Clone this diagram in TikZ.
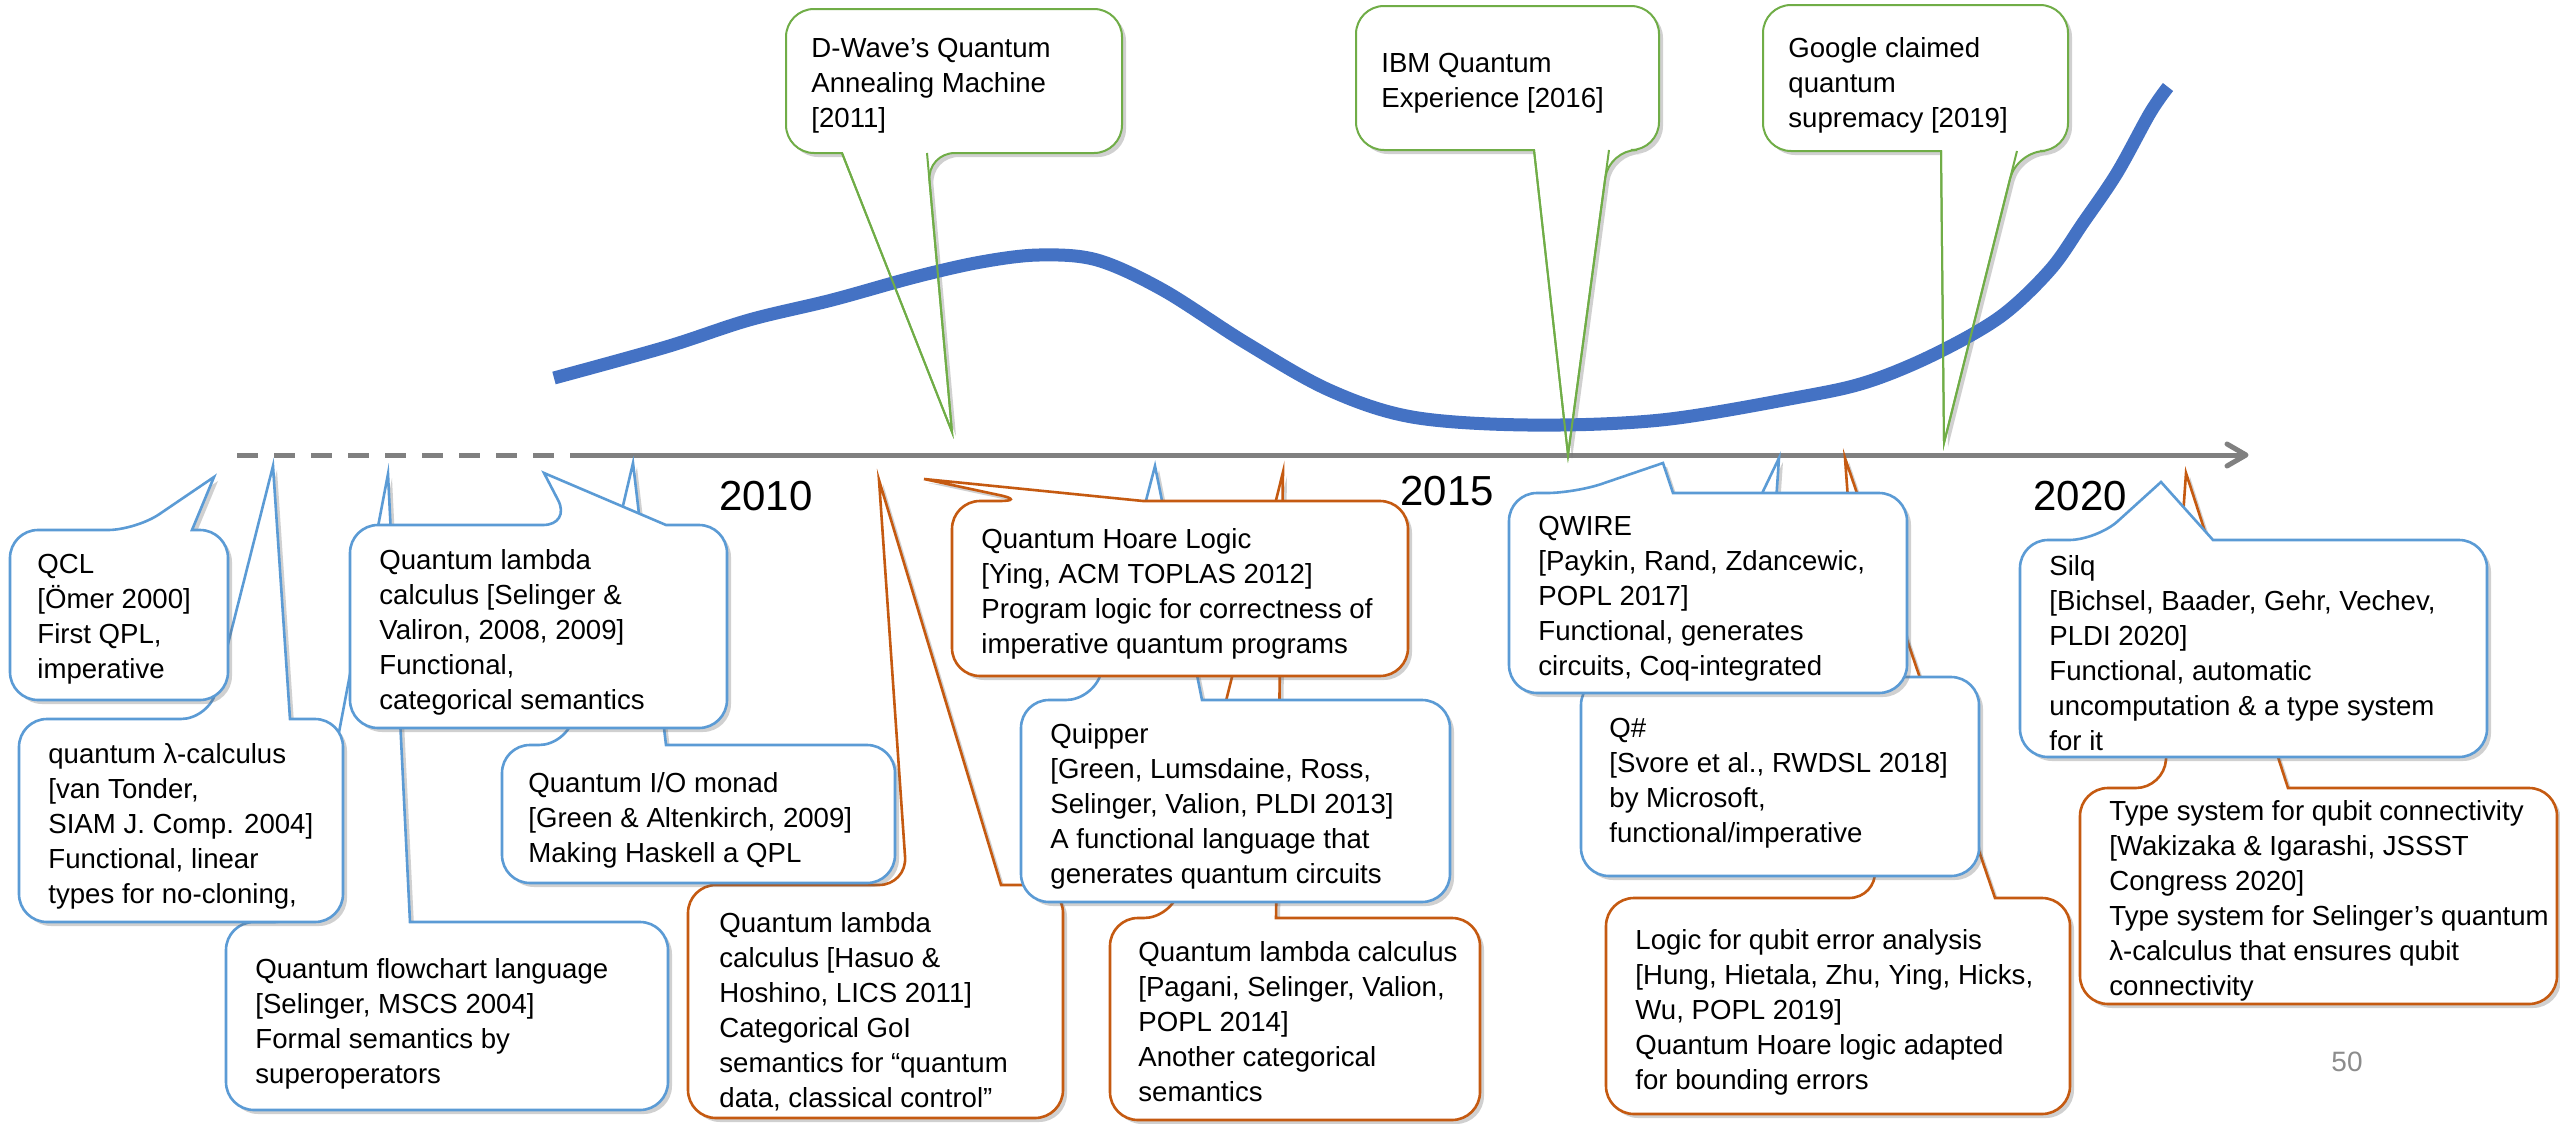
\documentclass[tikz,border=0pt]{standalone}
\usepackage{fontspec}
\setmainfont{Liberation Sans}
\usetikzlibrary{shadows}
\definecolor{cblue}{RGB}{91,155,213}
\definecolor{corange}{RGB}{197,90,17}
\definecolor{cgreen}{RGB}{112,173,71}
\definecolor{ccurve}{RGB}{68,114,196}
\definecolor{caxis}{RGB}{128,128,128}
\begin{document}
\begin{tikzpicture}[x=0.5pt,y=-0.5pt,
  shd/.style={drop shadow={shadow xshift=2pt,shadow yshift=-2pt,opacity=0.3,fill=black!60}},
  bbox/.style={draw=cblue,fill=white,line width=1.3pt,shd},
  obox/.style={draw=corange,fill=white,line width=1.3pt,shd},
  gbox/.style={draw=cgreen,fill=white,line width=1pt,shd},
  gline/.style={draw=cgreen,line width=1pt},
  txt/.style={anchor=north west,inner sep=0pt,align=left,font=\fontsize{13.8}{17.5}\selectfont},
  yr/.style={anchor=base,inner sep=0pt,font=\fontsize{21}{25}\selectfont},
  axisline/.style={draw=caxis,line width=2.5pt},
]
\useasboundingbox (0,0) rectangle (2560,1124);
\fill[white] (0,0) rectangle (2560,1124);

% axis
\draw[axisline,dash pattern=on 10.5pt off 8pt] (237,455) -- (572,455);
\draw[axisline] (572,455) -- (2244,455);
\draw[axisline,line cap=round,line join=round] (2227,444) -- (2246,455) -- (2227,466);

% year labels
\node[yr] (y2010) at (766,510) {2010};
\node[yr] (y2015) at (1447,505) {2015};
\node[yr] (y2020) at (2080,510) {2020};

% green callouts (top)
\draw[gbox] (842,153) [rounded corners=14pt] -- (786,153) -- (786,9) -- (1122,9) -- (1122,153) -- (927,153) [sharp corners] -- (952,432) -- cycle;
\draw[gbox] (1534,150) [rounded corners=14pt] -- (1356,150) -- (1356,6) -- (1659,6) -- (1659,150) -- (1609,150) [sharp corners] -- (1568,455) -- cycle;
\draw[gbox] (1941,151) [rounded corners=14pt] -- (1763,151) -- (1763,5) -- (2068,5) -- (2068,151) -- (2017,151) [sharp corners] -- (1944,443) -- cycle;

% curve
\draw[ccurve,line width=6.5pt] plot[smooth,tension=0.55] coordinates {
 (554,378) (666,347) (749,320) (832,300) (915,277) (981,262) (1039,255)
 (1097,260) (1163,290) (1246,343) (1329,390) (1412,417) (1528,425)
 (1661,420) (1800,397) (1867,382) (1933,355) (2000,317) (2050,270)
 (2083,223) (2117,173) (2150,113) (2168,87)};

% green tail lines over the curve
\draw[gline] (842,153) -- (952,432) -- (927,153);
\draw[gline] (1534,150) -- (1568,455) -- (1609,150);
\draw[gline] (1941,151) -- (1944,443) -- (2017,151);

\node[txt] (dwave) at (811,38) {D-Wave’s Quantum\\Annealing Machine\\{}[2011]};
\node[txt] (ibm) at (1381,53) {IBM Quantum\\Experience [2016]};
\node[txt] (google) at (1788,37) {Google claimed\\quantum\\supremacy [2019]};

% bottom callouts (tails on top edge)
% flowchart
\draw[bbox] (410,922) [rounded corners=14pt] -- (668,922) -- (668,1110) -- (226,1110) -- (226,922) -- (303,922) [sharp corners] -- (388,474) -- cycle;
% van Tonder
\draw[bbox] (290,719) [rounded corners=14pt] -- (343,719) -- (343,922) -- (19,922) -- (19,719) -- (209,719) [sharp corners] -- (273,466) -- cycle;
% QCL
\draw[bbox] (192,530) [rounded corners=14pt] -- (228,530) -- (228,700) -- (10,700) -- (10,530) -- (136,530) [sharp corners] -- (214,477) -- cycle;
% Hasuo
\draw[obox] (1001,885) [rounded corners=14pt] -- (1063,885) -- (1063,1118) -- (688,1118) -- (688,885) -- (907,885) [sharp corners] -- (879,480) -- cycle;
% I/O monad
\draw[bbox] (666,745) [rounded corners=14pt] -- (895,745) -- (895,883) -- (502,883) -- (502,745) -- (567,745) [sharp corners] -- (633,463) -- cycle;
% Selinger Valiron
\draw[bbox] (666,525) [rounded corners=14pt] -- (727,525) -- (727,728) -- (350,728) -- (350,525) -- (571,525) [sharp corners] -- (544,473) -- cycle;
% Pagani
\draw[obox] (1276,918) [rounded corners=14pt] -- (1480,918) -- (1480,1120) -- (1110,1120) -- (1110,918) -- (1172,918) [sharp corners] -- (1283,472) -- cycle;
% Quipper
\draw[bbox] (1202,700) [rounded corners=14pt] -- (1450,700) -- (1450,902) -- (1021,902) -- (1021,700) -- (1094,700) [sharp corners] -- (1155,466) -- cycle;
% QHL
\draw[obox] (1143,501) [rounded corners=14pt] -- (1408,501) -- (1408,676) -- (952,676) -- (952,501) -- (1027,501) [sharp corners] -- (924,479) -- cycle;
% Hung
\draw[obox] (1995,898) [rounded corners=14pt] -- (2070,898) -- (2070,1114) -- (1606,1114) -- (1606,898) -- (1877,898) [sharp corners] -- (1845,458) -- cycle;
% Q#
\draw[bbox] (1764,677) [rounded corners=14pt] -- (1979,677) -- (1979,876) -- (1581,876) -- (1581,677) -- (1674,677) [sharp corners] -- (1779,458) -- cycle;
% QWIRE
\draw[bbox] (1673,493) [rounded corners=14pt] -- (1907,493) -- (1907,693) -- (1509,693) -- (1509,493) -- (1575,493) [sharp corners] -- (1663,463) -- cycle;
% Type system
\draw[obox] (2288,788) [rounded corners=14pt] -- (2557,788) -- (2557,1004) -- (2080,1004) -- (2080,788) -- (2164,788) [sharp corners] -- (2186,473) -- cycle;
% Silq
\draw[bbox] (2213,540) [rounded corners=14pt] -- (2487,540) -- (2487,757) -- (2020,757) -- (2020,540) -- (2097,540) [sharp corners] -- (2161,482) -- cycle;

% texts
\node[txt] (qcl) at (37,554) {QCL\\{}[Ömer 2000]\\First QPL,\\imperative};
\node[txt] (vant) at (48,743) {quantum λ-calculus\\{}[van Tonder,\\SIAM J. Comp. 2004]\\Functional, linear\\types for no-cloning,};
\node[txt] (flow) at (255,958) {Quantum flowchart language\\{}[Selinger, MSCS 2004]\\Formal semantics by\\superoperators};
\node[txt] (selval) at (379,549) {Quantum lambda\\calculus [Selinger \&\\Valiron, 2008, 2009]\\Functional,\\categorical semantics};
\node[txt] (iomonad) at (528,772) {Quantum I/O monad\\{}[Green \& Altenkirch, 2009]\\Making Haskell a QPL};
\node[txt] (hasuo) at (719,912) {Quantum lambda\\calculus [Hasuo \&\\Hoshino, LICS 2011]\\Categorical GoI\\semantics for “quantum\\data, classical control”};
\node[txt] (qhl) at (981,528) {Quantum Hoare Logic\\{}[Ying, ACM TOPLAS 2012]\\Program logic for correctness of\\imperative quantum programs};
\node[txt] (quipper) at (1050,723) {Quipper\\{}[Green, Lumsdaine, Ross,\\Selinger, Valion, PLDI 2013]\\A functional language that\\generates quantum circuits};
\node[txt] (pagani) at (1138,941) {Quantum lambda calculus\\{}[Pagani, Selinger, Valion,\\POPL 2014]\\Another categorical\\semantics};
\node[txt] (qwire) at (1538,516) {QWIRE\\{}[Paykin, Rand, Zdancewic,\\POPL 2017]\\Functional, generates\\circuits, Coq-integrated};
\node[txt] (qsharp) at (1609,718) {Q\#\\{}[Svore et al., RWDSL 2018]\\by Microsoft,\\functional/imperative};
\node[txt] (hung) at (1635,929) {Logic for qubit error analysis\\{}[Hung, Hietala, Zhu, Ying, Hicks,\\Wu, POPL 2019]\\Quantum Hoare logic adapted\\for bounding errors};
\node[txt] (silq) at (2049,555) {Silq\\{}[Bichsel, Baader, Gehr, Vechev,\\PLDI 2020]\\Functional, automatic\\uncomputation \& a type system\\for it};
\node[txt] (typesys) at (2109,800) {Type system for qubit connectivity\\{}[Wakizaka \& Igarashi, JSSST\\Congress 2020]\\Type system for Selinger’s quantum\\λ-calculus that ensures qubit\\connectivity};

\node[font=\fontsize{14}{16}\selectfont,text=black!45,inner sep=0pt] (page) at (2347,1062) {50};
\end{tikzpicture}
\end{document}
